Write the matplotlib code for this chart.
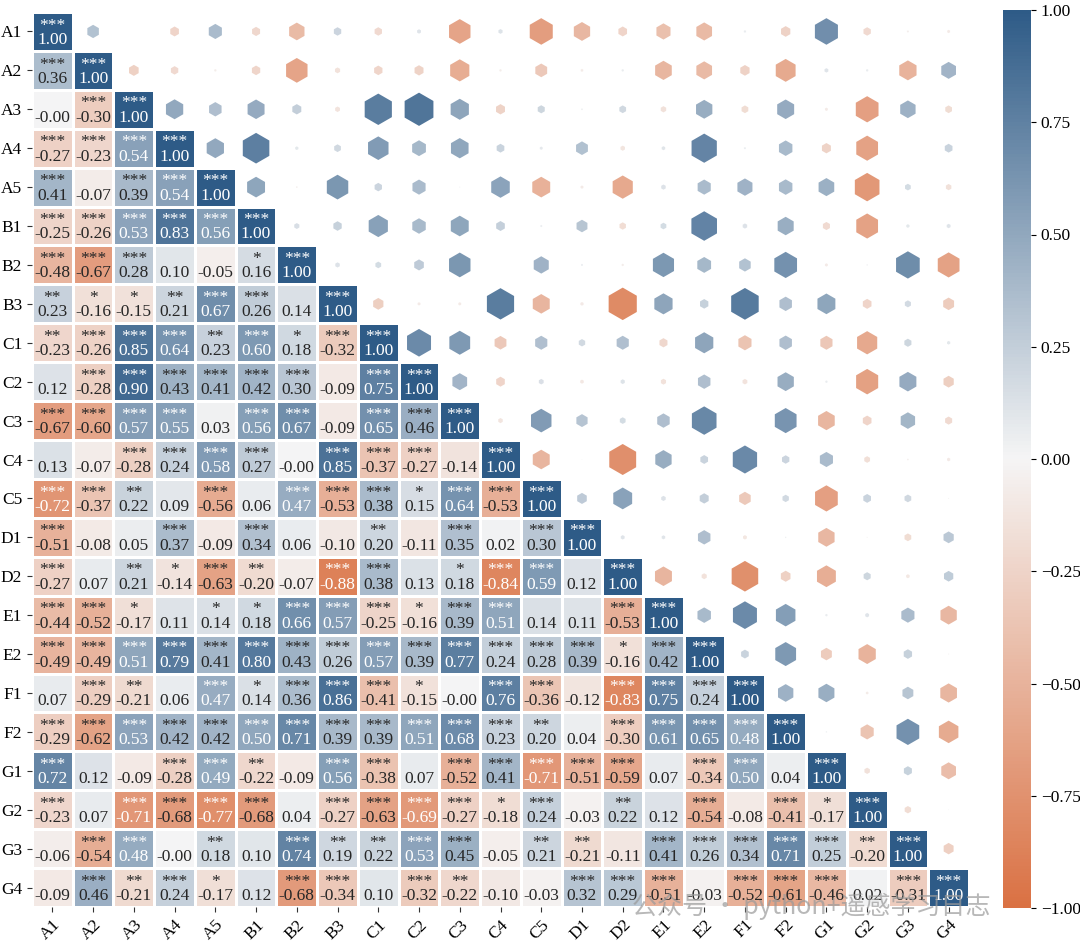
import numpy as np
import matplotlib
matplotlib.use("Agg")
import matplotlib.pyplot as plt
from matplotlib.colors import LinearSegmentedColormap, Normalize
from matplotlib.ticker import StrMethodFormatter

plt.rcParams['font.family'] = ['Liberation Serif', 'Noto Sans CJK SC', 'DejaVu Sans']

labels = ["A1", "A2", "A3", "A4", "A5", "B1", "B2", "B3", "C1", "C2", "C3", "C4", "C5",
          "D1", "D2", "E1", "E2", "F1", "F2", "G1", "G2", "G3", "G4"]

# lower-triangle correlation values (row i, columns 0..i)
r_A1 = [1.00]
r_A2 = [0.36, 1.00]
r_A3 = [-0.0, -0.30, 1.00]
r_A4 = [-0.27, -0.23, 0.54, 1.00]
r_A5 = [0.41, -0.07, 0.39, 0.54, 1.00]
r_B1 = [-0.25, -0.26, 0.53, 0.83, 0.56, 1.00]
r_B2 = [-0.48, -0.67, 0.28, 0.10, -0.05, 0.16, 1.00]
r_B3 = [0.23, -0.16, -0.15, 0.21, 0.67, 0.26, 0.14, 1.00]
r_C1 = [-0.23, -0.26, 0.85, 0.64, 0.23, 0.60, 0.18, -0.32, 1.00]
r_C2 = [0.12, -0.28, 0.90, 0.43, 0.41, 0.42, 0.30, -0.09, 0.75, 1.00]
r_C3 = [-0.67, -0.60, 0.57, 0.55, 0.03, 0.56, 0.67, -0.09, 0.65, 0.46, 1.00]
r_C4 = [0.13, -0.07, -0.28, 0.24, 0.58, 0.27, -0.0, 0.85, -0.37, -0.27, -0.14, 1.00]
r_C5 = [-0.72, -0.37, 0.22, 0.09, -0.56, 0.06, 0.47, -0.53, 0.38, 0.15, 0.64, -0.53, 1.00]
r_D1 = [-0.51, -0.08, 0.05, 0.37, -0.09, 0.34, 0.06, -0.10, 0.20, -0.11, 0.35, 0.02, 0.30, 1.00]
r_D2 = [-0.27, 0.07, 0.21, -0.14, -0.63, -0.20, -0.07, -0.88, 0.38, 0.13, 0.18, -0.84, 0.59, 0.12, 1.00]
r_E1 = [-0.44, -0.52, -0.17, 0.11, 0.14, 0.18, 0.66, 0.57, -0.25, -0.16, 0.39, 0.51, 0.14, 0.11, -0.53, 1.00]
r_E2 = [-0.49, -0.49, 0.51, 0.79, 0.41, 0.80, 0.43, 0.26, 0.57, 0.39, 0.77, 0.24, 0.28, 0.39, -0.16, 0.42, 1.00]
r_F1 = [0.07, -0.29, -0.21, 0.06, 0.47, 0.14, 0.36, 0.86, -0.41, -0.15, -0.0, 0.76, -0.36, -0.12, -0.83, 0.75, 0.24, 1.00]
r_F2 = [-0.29, -0.62, 0.53, 0.42, 0.42, 0.50, 0.71, 0.39, 0.39, 0.51, 0.68, 0.23, 0.20, 0.04, -0.30, 0.61, 0.65, 0.48, 1.00]
r_G1 = [0.72, 0.12, -0.09, -0.28, 0.49, -0.22, -0.09, 0.56, -0.38, 0.07, -0.52, 0.41, -0.71, -0.51, -0.59, 0.07, -0.34, 0.50, 0.04, 1.00]
r_G2 = [-0.23, 0.07, -0.71, -0.68, -0.77, -0.68, 0.04, -0.27, -0.63, -0.69, -0.27, -0.18, 0.24, -0.03, 0.22, 0.12, -0.54, -0.08, -0.41, -0.17, 1.00]
r_G3 = [-0.06, -0.54, 0.48, -0.0, 0.18, 0.10, 0.74, 0.19, 0.22, 0.53, 0.45, -0.05, 0.21, -0.21, -0.11, 0.41, 0.26, 0.34, 0.71, 0.25, -0.20, 1.00]
r_G4 = [-0.09, 0.46, -0.21, 0.24, -0.17, 0.12, -0.68, -0.34, 0.10, -0.32, -0.22, -0.10, -0.03, 0.32, 0.29, -0.51, -0.03, -0.52, -0.61, -0.46, 0.02, -0.31, 1.00]
corr_rows = [r_A1, r_A2, r_A3, r_A4, r_A5, r_B1, r_B2, r_B3, r_C1, r_C2, r_C3, r_C4, r_C5,
             r_D1, r_D2, r_E1, r_E2, r_F1, r_F2, r_G1, r_G2, r_G3, r_G4]

# significance level (number of stars) for each lower-triangle cell
star_rows = [
    [3],
    [3, 3],
    [0, 3, 3],
    [3, 3, 3, 3],
    [3, 0, 3, 3, 3],
    [3, 3, 3, 3, 3, 3],
    [3, 3, 3, 0, 0, 1, 3],
    [2, 1, 1, 2, 3, 3, 0, 3],
    [2, 3, 3, 3, 2, 3, 1, 3, 3],
    [0, 3, 3, 3, 3, 3, 3, 0, 3, 3],
    [3, 3, 3, 3, 0, 3, 3, 0, 3, 3, 3],
    [0, 0, 3, 3, 3, 3, 0, 3, 3, 3, 0, 3],
    [3, 3, 2, 0, 3, 0, 3, 3, 3, 1, 3, 3, 3],
    [3, 0, 0, 3, 0, 3, 0, 0, 2, 0, 3, 0, 3, 3],
    [3, 0, 2, 1, 3, 2, 0, 3, 3, 0, 1, 3, 3, 0, 3],
    [3, 3, 1, 0, 1, 1, 3, 3, 3, 1, 3, 3, 0, 0, 3, 3],
    [3, 3, 3, 3, 3, 3, 3, 3, 3, 3, 3, 3, 3, 3, 1, 3, 3],
    [0, 3, 2, 0, 3, 1, 3, 3, 3, 1, 0, 3, 3, 0, 3, 3, 3, 3],
    [3, 3, 3, 3, 3, 3, 3, 3, 3, 3, 3, 3, 2, 0, 3, 3, 3, 3, 3],
    [3, 0, 0, 3, 3, 2, 0, 3, 3, 0, 3, 3, 3, 3, 3, 0, 3, 3, 0, 3],
    [3, 0, 3, 3, 3, 3, 0, 3, 3, 3, 3, 1, 3, 0, 2, 0, 3, 0, 3, 1, 3],
    [0, 3, 3, 0, 2, 0, 3, 2, 2, 3, 3, 0, 2, 2, 0, 3, 3, 3, 3, 3, 2, 3],
    [0, 3, 2, 3, 1, 0, 3, 3, 0, 3, 2, 0, 0, 3, 3, 3, 0, 3, 3, 3, 0, 3, 3],
]

cbar_ticks = [-1.0, -0.75, -0.5, -0.25, 0.0, 0.25, 0.5, 0.75, 1.0]
watermark = "公众号 · python+遥感学习日志"

n = len(labels)
corr = np.full((n, n), np.nan)
for i, row in enumerate(corr_rows):
    for j, v in enumerate(row):
        corr[i, j] = v
        corr[j, i] = v

cmap = LinearSegmentedColormap.from_list("rb", ["#DA7143", "#F5F5F5", "#2E5B87"])
norm = Normalize(-1, 1)

fig = plt.figure(figsize=(10.8, 9.44), dpi=100)
ax = fig.add_axes([32 / 1080, 37 / 944, 937 / 1080, 895 / 944])
cax = fig.add_axes([1003 / 1080, 36 / 944, 28 / 1080, 898 / 944])

mask_lower = np.tril(np.ones((n, n), bool))
lower = np.ma.masked_where(~mask_lower, corr)
mesh = ax.pcolormesh(np.arange(n + 1), np.arange(n + 1), lower, cmap=cmap, norm=norm,
                     edgecolors="white", linewidth=1.0)


def rel_lum(c):
    rgb = np.array(c[:3])
    rgb = np.where(rgb <= 0.03928, rgb / 12.92, ((rgb + 0.055) / 1.055) ** 2.4)
    return float(rgb @ np.array([0.2126, 0.7152, 0.0722]))


for i in range(n):
    for j in range(i + 1):
        v = corr[i, j]
        tc = ".15" if rel_lum(cmap(norm(v))) > 0.408 else "white"
        k = star_rows[i][j]
        top = "*" * k if k else " "
        # anchor at the baseline of the value line (last line)
        ax.text(j + 0.5, i + 0.82, f"{top}\n{v:.2f}", ha="center", va="baseline",
                multialignment="center", linespacing=0.86, fontsize=12.5, color=tc)

# upper triangle hexagons
xs, ys, vs = [], [], []
for i in range(n):
    for j in range(i + 1, n):
        xs.append(j + 0.5)
        ys.append(i + 0.5)
        vs.append(corr[i, j])
vs = np.array(vs)
ax.scatter(xs, ys, s=(26.6 * np.abs(vs)) ** 2, c=vs, cmap=cmap, norm=norm,
           marker="h", linewidths=0, alpha=0.92, zorder=3)

ax.set_xlim(0, n)
ax.set_ylim(n, 0)
ax.set_xticks(np.arange(n) + 0.5)
ax.set_xticklabels(labels, rotation=45, ha="right", rotation_mode="anchor", fontsize=12.5)
ax.set_yticks(np.arange(n) + 0.5)
ax.set_yticklabels(labels, fontsize=12.5)
ax.tick_params(length=3.5, width=0.8, color="#333333")
for s in ax.spines.values():
    s.set_visible(False)

cb = fig.colorbar(mesh, cax=cax, ticks=cbar_ticks)
cb.outline.set_visible(False)
cb.ax.yaxis.set_major_formatter(StrMethodFormatter("{x:.2f}"))
cb.ax.tick_params(labelsize=12.5, length=3.5, width=0.8)

fig.text(632 / 1080, 1 - 906 / 944, watermark, fontsize=18, color="#9a9a9a", alpha=0.7,
         ha="left", va="center", family=["Noto Sans CJK SC", "DejaVu Sans"], zorder=10)

fig.savefig("out.png", dpi=100)
